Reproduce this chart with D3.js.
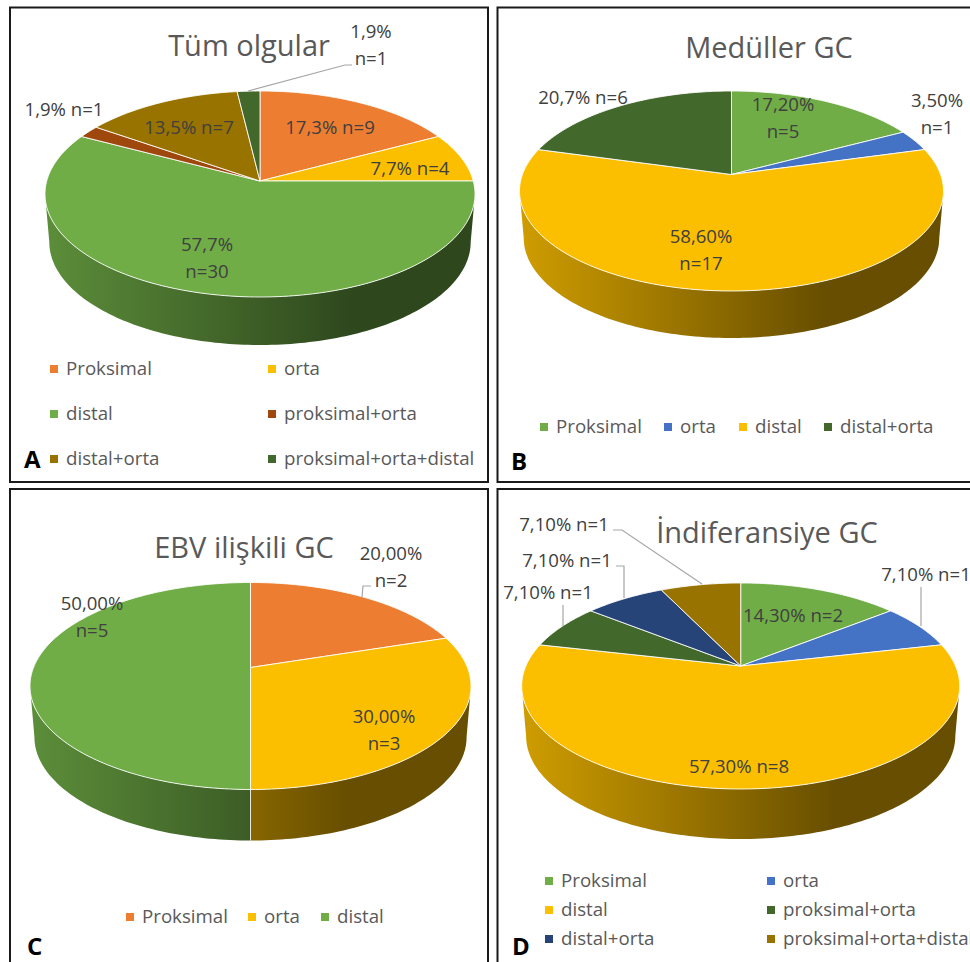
<!DOCTYPE html>
<html>
<head>
<meta charset="utf-8">
<script src="https://cdn.jsdelivr.net/npm/d3@7"></script>
<style>
  html, body { margin: 0; padding: 0; background: #fff; overflow: hidden; }
  svg { display: block; font-family: "Open Sans", sans-serif; }
</style>
</head>
<body>
<div id="container"></div>
<script>
/* DATA */
const aCategories = ["Proksimal", "orta", "distal", "proksimal+orta", "distal+orta", "proksimal+orta+distal"];
const aValues = [9, 4, 30, 1, 7, 1];
const aLabels = [["17,3% n=9"], ["7,7% n=4"], ["57,7%", "n=30"], ["1,9% n=1"], ["13,5% n=7"], ["1,9%", "n=1"]];

const bCategories = ["Proksimal", "orta", "distal", "distal+orta"];
const bValues = [5, 1, 17, 6];
const bLabels = [["17,20%", "n=5"], ["3,50%", "n=1"], ["58,60%", "n=17"], ["20,7% n=6"]];

const cCategories = ["Proksimal", "orta", "distal"];
const cValues = [2, 3, 5];
const cLabels = [["20,00%", "n=2"], ["30,00%", "n=3"], ["50,00%", "n=5"]];

const dCategories = ["Proksimal", "orta", "distal", "proksimal+orta", "distal+orta", "proksimal+orta+distal"];
const dValues = [2, 1, 8, 1, 1, 1];
const dLabels = [["14,30% n=2"], ["7,10% n=1"], ["57,30% n=8"], ["7,10% n=1"], ["7,10% n=1"], ["7,10% n=1"]];

/* COLORS */
const orange = "#ed7d31", yellow = "#fcbf00", green = "#70ad47", blue = "#4472c4",
  brown = "#9e480e", gold = "#997300", darkGreen = "#43682b", navy = "#264478";

/* LAYOUT */
const width = 970, height = 962;

const panels = [
  {
    title: "Tüm olgular", letter: "A", categories: aCategories, values: aValues, labels: aLabels,
    colors: [orange, yellow, green, brown, gold, darkGreen],
    frame: [10, 7.5, 478, 474.5], titlePos: [249, 56], letterPos: [24, 468],
    cx: 260, apex: 181, top: 91, bottom: 297, halfWidth: 215, depth: 48,
    labelPos: [[330, 134], [410, 175], [207, 251], [64, 116], [189, 134], [371, 38]],
    leaders: [[[248, 91], [345, 65], [352, 65]]],
    legend: [[50, 369], [268, 369], [50, 414], [268, 414], [50, 459], [268, 459]]
  },
  {
    title: "Medüller GC", letter: "B", categories: bCategories, values: bValues, labels: bLabels,
    colors: [green, blue, yellow, darkGreen],
    frame: [497.5, 7.5, 500, 474.5], titlePos: [769, 58], letterPos: [511, 470],
    cx: 731.5, apex: 174.5, top: 91, bottom: 291, halfWidth: 212, depth: 47,
    labelPos: [[783, 111], [937, 107], [701, 243], [583, 104]],
    leaders: [],
    legend: [[540, 427], [664, 427], [739, 427], [824, 427]]
  },
  {
    title: "EBV ilişkili GC", letter: "C", categories: cCategories, values: cValues, labels: cLabels,
    colors: [orange, yellow, green],
    frame: [10, 489, 478, 500], titlePos: [244, 558], letterPos: [27, 955],
    cx: 250.5, apex: 667.5, top: 582.5, bottom: 789.5, halfWidth: 220.5, depth: 51,
    labelPos: [[391, 560], [384, 723], [92, 610]],
    leaders: [[[362, 597], [363, 586], [371, 586]]],
    legend: [[126, 917], [248, 917], [321, 917]]
  },
  {
    title: "İndiferansiye GC", letter: "D", categories: dCategories, values: dValues, labels: dLabels,
    colors: [green, blue, yellow, darkGreen, navy, gold],
    frame: [497.5, 489, 500, 500], titlePos: [767, 543], letterPos: [512, 955],
    cx: 740.7, apex: 666, top: 583, bottom: 789, halfWidth: 219, depth: 50,
    labelPos: [[793, 622], [926, 581], [739, 773], [548, 599], [567, 567], [564, 531]],
    leaders: [
      [[921, 587], [921, 626]],
      [[563, 605], [563, 626]],
      [[616, 566], [624, 566], [624, 598]],
      [[613, 530], [622, 530], [702, 584]]
    ],
    legend: [[545, 881], [767, 881], [545, 910], [767, 910], [545, 939], [767, 939]]
  }
];

/* DRAW */
const svg = d3.select("#container").append("svg")
  .attr("width", width)
  .attr("height", height);

const defs = svg.append("defs");
const pieGen = d3.pie().sort(null).value(d => d);
const lineGen = d3.line();

panels.forEach((p, pi) => {
  // perspective of the tilted disc: back half is shorter than the front half
  const back = p.apex - p.top, front = p.bottom - p.apex;
  const k = (front - back) / (front + back);
  const sy = back * (1 + k);
  const sx = p.halfWidth * Math.sqrt(1 - k * k);

  const project = theta => {
    const u = Math.sin(theta), v = -Math.cos(theta), w = 1 - k * v;
    return [p.cx + sx * u / w, p.apex + sy * v / w];
  };
  const lower = pt => [p.cx + (pt[0] - p.cx) * 0.98, pt[1] + p.depth];

  const rim = (a0, a1) => {
    const n = Math.max(2, Math.ceil((a1 - a0) / 0.02));
    return d3.range(n + 1).map(i => project(a0 + (a1 - a0) * i / n));
  };

  // only the wall between the two widest points of the disc can be seen
  const wallStart = Math.acos(-k), wallEnd = 2 * Math.PI - wallStart;

  const g = svg.append("g");

  g.append("rect")
    .attr("x", p.frame[0]).attr("y", p.frame[1])
    .attr("width", p.frame[2]).attr("height", p.frame[3])
    .attr("fill", "#fff").attr("stroke", "#1a1a1a").attr("stroke-width", 2);

  g.append("text")
    .attr("x", p.titlePos[0]).attr("y", p.titlePos[1])
    .attr("text-anchor", "middle")
    .attr("font-size", 29).attr("fill", "#595959")
    .text(p.title);

  const arcs = pieGen(p.values);

  // side walls
  arcs.forEach(a => {
    const a0 = Math.max(a.startAngle, wallStart), a1 = Math.min(a.endAngle, wallEnd);
    if (a1 <= a0) return;

    const c = d3.color(p.colors[a.index]);
    const id = `wall-${pi}-${a.index}`;
    const grad = defs.append("linearGradient")
      .attr("id", id)
      .attr("gradientUnits", "userSpaceOnUse")
      .attr("x1", p.cx - p.halfWidth).attr("x2", p.cx + p.halfWidth)
      .attr("y1", 0).attr("y2", 0);
    grad.append("stop").attr("offset", 0).attr("stop-color", mix(c, 0.82));
    grad.append("stop").attr("offset", 0.72).attr("stop-color", mix(c, 0.41));
    grad.append("stop").attr("offset", 1).attr("stop-color", mix(c, 0.41));

    const topEdge = rim(a0, a1);
    g.append("path")
      .attr("d", lineGen(topEdge.concat(topEdge.map(lower).reverse())) + "Z")
      .attr("fill", `url(#${id})`);
  });

  // seam between front walls
  arcs.forEach(a => {
    if (a.startAngle > wallStart && a.startAngle < wallEnd) {
      const pt = project(a.startAngle);
      g.append("path")
        .attr("d", lineGen([pt, lower(pt)]))
        .attr("stroke", "#fff").attr("stroke-opacity", 0.8).attr("stroke-width", 1);
    }
  });

  // top face
  arcs.forEach(a => {
    g.append("path")
      .attr("d", lineGen([[p.cx, p.apex]].concat(rim(a.startAngle, a.endAngle))) + "Z")
      .attr("fill", p.colors[a.index])
      .attr("stroke", "#fff").attr("stroke-opacity", 0.85).attr("stroke-width", 1)
      .attr("stroke-linejoin", "round");
  });

  // leader lines
  p.leaders.forEach(pts => {
    g.append("path")
      .attr("d", lineGen(pts))
      .attr("fill", "none").attr("stroke", "#a6a6a6").attr("stroke-width", 1.2);
  });

  // data labels
  p.labels.forEach((lines, i) => {
    const text = g.append("text")
      .attr("text-anchor", "middle")
      .attr("font-size", 18.6).attr("fill", "#404040");
    lines.forEach((line, j) => {
      text.append("tspan")
        .attr("x", p.labelPos[i][0])
        .attr("y", p.labelPos[i][1] + j * 26.5)
        .text(line);
    });
  });

  // legend
  p.categories.forEach((cat, i) => {
    const [x, y] = p.legend[i];
    g.append("rect")
      .attr("x", x).attr("y", y - 4)
      .attr("width", 8).attr("height", 8)
      .attr("fill", p.colors[i]);
    g.append("text")
      .attr("x", x + 16).attr("y", y + 6)
      .attr("font-size", 18.7).attr("fill", "#595959")
      .text(cat);
  });

  g.append("text")
    .attr("x", p.letterPos[0]).attr("y", p.letterPos[1])
    .attr("font-size", 24).attr("font-weight", 700).attr("fill", "#000")
    .text(p.letter);
});

function mix(c, f) {
  return d3.rgb(c.r * f, c.g * f, c.b * f).formatHex();
}
</script>
</body>
</html>
